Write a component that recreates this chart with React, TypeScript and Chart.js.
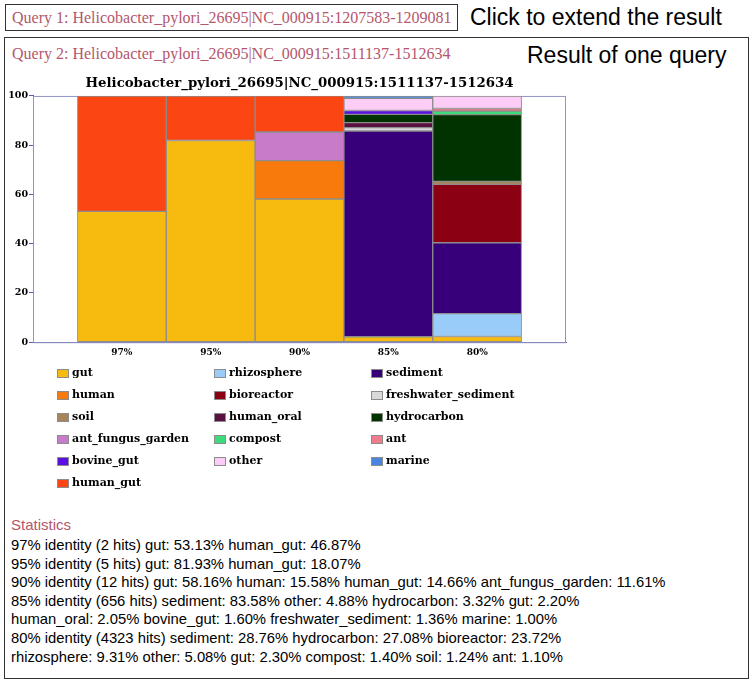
import React, { useEffect, useRef } from 'react';
import { Chart, registerables } from 'chart.js';
Chart.register(...registerables);

const chartTitle = 'Helicobacter_pylori_26695|NC_000915:1511137-1512634';
const query1Label = 'Query 1: Helicobacter_pylori_26695|NC_000915:1207583-1209081';
const query2Label = 'Query 2: Helicobacter_pylori_26695|NC_000915:1511137-1512634';

const categories = ['97%', '95%', '90%', '85%', '80%'];
const yTicks = [0, 20, 40, 60, 80, 100];

// values per category (97%, 95%, 90%, 85%, 80%), stacked bottom -> top in this order
const gut = [53.13, 81.93, 58.16, 2.2, 2.3];
const rhizosphere = [null, null, null, null, 9.31];
const sediment = [null, null, null, 83.58, 28.76];
const human = [null, null, 15.58, null, null];
const bioreactor = [null, null, null, null, 23.72];
const freshwater_sediment = [null, null, null, 1.36, null];
const soil = [null, null, null, null, 1.24];
const human_oral = [null, null, null, 2.05, null];
const hydrocarbon = [null, null, null, 3.32, 27.08];
const ant_fungus_garden = [null, null, 11.61, null, null];
const compost = [null, null, null, null, 1.4];
const ant = [null, null, null, null, 1.1];
const bovine_gut = [null, null, null, 1.6, null];
const other = [null, null, null, 4.88, 5.08];
const marine = [null, null, null, 1.0, null];
const human_gut = [46.87, 18.07, 14.66, null, null];

const seriesNames = [
  'gut', 'rhizosphere', 'sediment', 'human', 'bioreactor', 'freshwater_sediment',
  'soil', 'human_oral', 'hydrocarbon', 'ant_fungus_garden', 'compost', 'ant',
  'bovine_gut', 'other', 'marine', 'human_gut',
];
const seriesValues: (number | null)[][] = [
  gut, rhizosphere, sediment, human, bioreactor, freshwater_sediment,
  soil, human_oral, hydrocarbon, ant_fungus_garden, compost, ant,
  bovine_gut, other, marine, human_gut,
];
const seriesColors: Record<string, string> = {
  gut: '#f7ba0e',
  rhizosphere: '#99ccf8',
  sediment: '#37007a',
  human: '#f97a0c',
  bioreactor: '#8b0012',
  freshwater_sediment: '#d9d9d9',
  soil: '#a8845a',
  human_oral: '#5a1040',
  hydrocarbon: '#003300',
  ant_fungus_garden: '#c77bc8',
  compost: '#3ddb7a',
  ant: '#f07b8c',
  bovine_gut: '#5a10e0',
  other: '#fdccf7',
  marine: '#4a86e0',
  human_gut: '#fb4512',
};

const statsLines = [
  '97% identity (2 hits) gut: 53.13% human_gut: 46.87%',
  '95% identity (5 hits) gut: 81.93% human_gut: 18.07%',
  '90% identity (12 hits) gut: 58.16% human: 15.58% human_gut: 14.66% ant_fungus_garden: 11.61%',
  '85% identity (656 hits) sediment: 83.58% other: 4.88% hydrocarbon: 3.32% gut: 2.20%',
  'human_oral: 2.05% bovine_gut: 1.60% freshwater_sediment: 1.36% marine: 1.00%',
  '80% identity (4323 hits) sediment: 28.76% hydrocarbon: 27.08% bioreactor: 23.72%',
  'rhizosphere: 9.31% other: 5.08% gut: 2.30% compost: 1.40% soil: 1.24% ant: 1.10%',
];

const SERIF = '"DejaVu Serif", serif';
const SANS = '"Liberation Sans", Arial, sans-serif';
const QSERIF = '"Liberation Serif", serif';
const ROSE = '#b5566b';
const AXIS = '#5a5aa8';

const framePlugin = {
  id: 'frame',
  beforeDatasetsDraw(chart: any) {
    const { ctx, chartArea } = chart;
    ctx.save();
    ctx.strokeStyle = '#9494c4';
    ctx.lineWidth = 1;
    ctx.strokeRect(chartArea.left + 0.5, chartArea.top + 0.5, chartArea.right - chartArea.left - 1, chartArea.bottom - chartArea.top);
    ctx.restore();
  },
};

function StackChart() {
  const ref = useRef<HTMLCanvasElement>(null);
  useEffect(() => {
    if (!ref.current) return;
    const datasets = seriesNames.map((name, si) => ({
      label: name,
      data: seriesValues[si]
        .map((v, i) => ({ x: i, y: v }))
        .filter((p) => p.y !== null),
      backgroundColor: seriesColors[name],
      borderColor: '#8c8c8c',
      borderWidth: 1,
      borderSkipped: false,
      barPercentage: 1,
      categoryPercentage: 1,
    }));
    const chart = new Chart(ref.current, {
      type: 'bar',
      data: { datasets: datasets as any },
      plugins: [framePlugin],
      options: {
        animation: false,
        responsive: true,
        maintainAspectRatio: false,
        layout: { padding: { left: 0, right: 34, top: 0, bottom: 4 } },
        plugins: {
          legend: { display: false },
          tooltip: { enabled: false },
          title: {
            display: true,
            fullSize: false,
            text: chartTitle,
            color: '#000',
            font: { family: SERIF, weight: 'bold', size: 13.3 },
            padding: { top: 6, bottom: 4 },
          },
        },
        scales: {
          x: {
            type: 'linear',
            min: -1,
            max: 5,
            stacked: true,
            offset: false,
            grid: { display: false, drawTicks: false },
            border: { display: true, color: AXIS, width: 1 },
            afterBuildTicks: (scale: any) => {
              scale.ticks = categories.map((_, i) => ({ value: i }));
            },
            ticks: {
              autoSkip: false,
              maxRotation: 0,
              padding: 5,
              color: '#000',
              font: { family: SERIF, weight: 'bold', size: 9 },
              callback: (v: any) => categories[v] ?? '',
            },
          },
          y: {
            min: 0,
            max: 100,
            stacked: true,
            afterBuildTicks: (scale: any) => {
              scale.ticks = yTicks.map((v) => ({ value: v }));
            },
            afterFit: (scale: any) => {
              scale.width = 33;
            },
            grid: { drawOnChartArea: false, drawTicks: true, tickLength: 4, color: AXIS },
            border: { display: true, color: AXIS, width: 1 },
            ticks: {
              padding: 1,
              color: '#000',
              font: { family: SERIF, weight: 'bold', size: 9.5 },
            },
          },
        },
      } as any,
    });
    return () => chart.destroy();
  }, []);
  return <canvas ref={ref} />;
}

const abs = (left: number, top: number, extra: React.CSSProperties = {}): React.CSSProperties => ({
  position: 'absolute',
  left,
  top,
  whiteSpace: 'nowrap',
  ...extra,
});

export default function App() {
  const legendCols = [57, 214, 371];
  return (
    <div style={{ position: 'relative', width: 752, height: 682, background: '#fff', overflow: 'hidden' }}>
      <style>{'body{margin:0;background:#fff}'}</style>
      <div style={abs(5, 4, { width: 451, height: 25, border: '1px solid #333', boxSizing: 'content-box' })} />
      <div style={abs(12, 4, { height: 27, lineHeight: '27px', fontFamily: QSERIF, fontSize: 16, color: ROSE })}>{query1Label}</div>
      <div style={abs(470, 3, { lineHeight: '28px', fontFamily: SANS, fontSize: 23, color: '#000' })}>Click to extend the result</div>

      <div style={abs(4, 37, { width: 743, height: 640, border: '1px solid #333' })} />
      <div style={abs(12, 44, { lineHeight: '20px', fontFamily: QSERIF, fontSize: 16, color: ROSE })}>{query2Label}</div>
      <div style={abs(527, 41, { lineHeight: '28px', fontFamily: SANS, fontSize: 23, color: '#000' })}>Result of one query</div>

      <div style={abs(0, 70, { width: 600, height: 297 })}>
        <StackChart />
      </div>

      {seriesNames.map((name, i) => {
        const col = i % 3;
        const row = Math.floor(i / 3);
        const cy = 372.7 + row * 22.1;
        const x = legendCols[col];
        return (
          <React.Fragment key={name}>
            <div style={abs(x, cy - 4, { width: 10, height: 7, background: seriesColors[name], border: '1px solid #8c8c8c' })} />
            <div style={abs(x + 15, cy - 8, { lineHeight: '16px', fontFamily: SERIF, fontWeight: 'bold', fontSize: 11, color: '#000' })}>{name}</div>
          </React.Fragment>
        );
      })}

      <div style={abs(11, 515, { lineHeight: '20px', fontFamily: SANS, fontSize: 15, color: ROSE })}>Statistics</div>
      {statsLines.map((line, i) => (
        <div key={i} style={abs(11, 536 + i * 18.6, { lineHeight: '18px', fontFamily: SANS, fontSize: 14.8, color: '#000' })}>{line}</div>
      ))}
    </div>
  );
}
